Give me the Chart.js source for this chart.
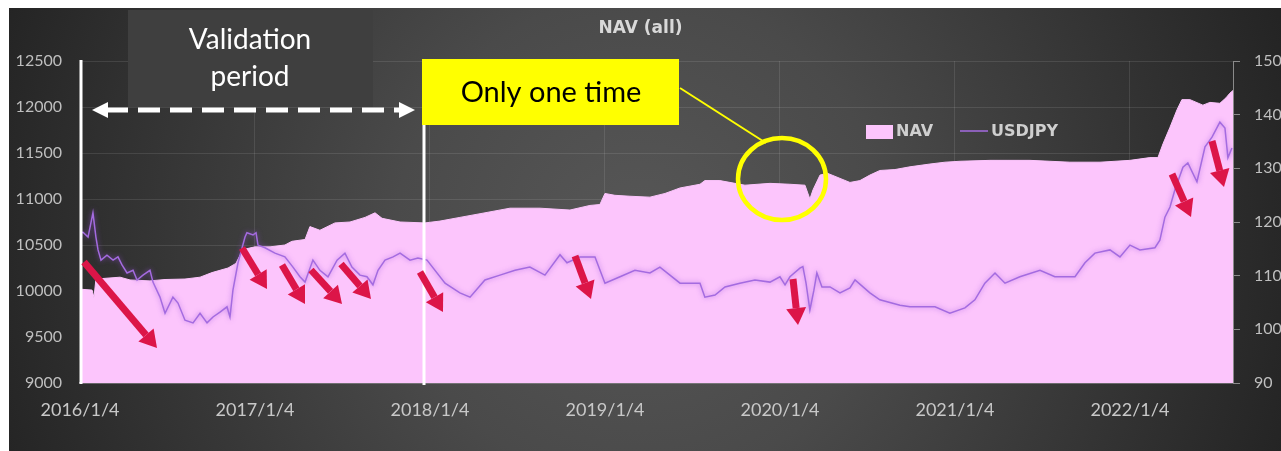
<!DOCTYPE html>
<html>
<head>
<meta charset="utf-8">
<script src="https://cdn.jsdelivr.net/npm/chart.js@4.4.1/dist/chart.umd.min.js"></script>
<style>
html,body{margin:0;padding:0;background:#fff;}
canvas{display:block;}
</style>
</head>
<body>
<canvas id="c" width="1281" height="451"></canvas>
<script>
// ---- data (years counted from 2016/1/4) ----
const tickLabels = ['2016/1/4','2017/1/4','2018/1/4','2019/1/4','2020/1/4','2021/1/4','2022/1/4'];

const navYears = [0.000,0.069,0.080,0.091,0.229,0.286,0.400,0.486,0.600,0.686,0.754,0.846,0.891,0.931,1.000,1.086,1.171,1.211,1.286,1.314,1.371,1.457,1.543,1.629,1.686,1.726,1.829,1.971,2.057,2.171,2.286,2.457,2.629,2.800,2.914,2.971,3.000,3.057,3.143,3.257,3.343,3.429,3.543,3.571,3.657,3.743,3.800,3.943,4.057,4.143,4.171,4.189,4.229,4.271,4.400,4.457,4.514,4.571,4.657,4.743,4.857,4.943,5.029,5.200,5.429,5.543,5.657,5.829,6.000,6.114,6.160,6.189,6.229,6.269,6.297,6.343,6.417,6.457,6.514,6.549,6.571,6.589];
const navValues = [10020,10010,9930,10130,10150,10120,10110,10125,10130,10150,10200,10250,10300,10450,10480,10480,10500,10540,10560,10700,10660,10740,10750,10800,10850,10790,10750,10740,10760,10800,10840,10900,10900,10880,10930,10940,11060,11040,11030,11020,11060,11120,11160,11200,11200,11170,11150,11170,11160,11150,11000,11100,11260,11280,11180,11200,11260,11310,11320,11350,11380,11400,11410,11420,11420,11410,11400,11400,11420,11450,11450,11600,11780,11970,12080,12080,12020,12050,12040,12100,12150,12180];

const fxYears = [0.000,0.017,0.046,0.074,0.091,0.103,0.120,0.154,0.189,0.217,0.240,0.269,0.303,0.326,0.360,0.400,0.417,0.457,0.486,0.531,0.560,0.600,0.646,0.686,0.726,0.760,0.800,0.840,0.857,0.874,0.903,0.943,0.954,0.989,1.006,1.017,1.057,1.114,1.171,1.217,1.257,1.286,1.331,1.371,1.417,1.469,1.514,1.554,1.600,1.640,1.674,1.703,1.743,1.789,1.829,1.886,1.931,1.983,2.086,2.171,2.229,2.314,2.400,2.486,2.571,2.657,2.743,2.783,2.857,2.943,3.000,3.086,3.171,3.257,3.314,3.429,3.543,3.571,3.629,3.686,3.771,3.857,3.943,4.000,4.029,4.057,4.114,4.131,4.149,4.171,4.194,4.211,4.240,4.286,4.343,4.400,4.429,4.514,4.571,4.686,4.743,4.886,4.971,5.057,5.114,5.171,5.229,5.286,5.371,5.486,5.571,5.686,5.743,5.800,5.886,5.943,6.000,6.057,6.143,6.171,6.200,6.229,6.257,6.303,6.331,6.383,6.429,6.469,6.514,6.543,6.560,6.583];
const usdjpyValues = [118.0,118.1,117.2,121.7,117.2,114.8,112.9,113.8,112.9,113.5,112.0,110.5,111.0,109.2,110.1,111.0,108.8,106.0,103.0,106.0,104.9,101.7,101.2,103.0,101.2,102.3,103.2,104.2,102.3,107.3,112.4,117.2,118.0,117.6,118.0,115.7,115.2,114.2,113.5,111.6,109.8,108.8,112.9,111.0,109.8,112.9,114.2,111.6,110.1,109.8,108.3,111.0,112.9,113.5,114.2,112.9,113.3,112.9,108.6,106.8,106.0,109.2,110.1,111.0,111.6,110.1,113.9,112.4,113.5,113.5,108.6,109.8,111.0,110.5,111.6,108.6,108.6,106.0,106.4,107.9,108.6,109.2,108.8,109.8,108.3,109.8,111.4,111.7,108.6,103.6,107.3,110.5,107.9,107.9,106.8,107.7,109.2,106.8,105.5,104.5,104.2,104.2,103.0,104.0,105.5,108.6,110.5,108.6,109.8,111.0,109.8,109.8,112.4,114.2,114.8,113.5,115.7,114.8,115.2,116.6,120.9,122.8,126.0,130.2,131.0,127.5,134.0,135.8,138.6,137.5,132.0,133.8];

const navPoints = navYears.map((t, i) => ({x: t, y: navValues[i]}));
const fxPoints = fxYears.map((t, i) => ({x: t, y: usdjpyValues[i]}));

// ---- decoration plugins ----
const bgPlugin = {
  id: 'bg',
  beforeDraw(chart) {
    const c = chart.ctx;
    c.save();
    c.fillStyle = '#ffffff';
    c.fillRect(0, 0, chart.width, chart.height);
    const g = c.createRadialGradient(640, 240, 0, 640, 240, 700);
    g.addColorStop(0, '#575757');
    g.addColorStop(0.35, '#4a4a4a');
    g.addColorStop(1, '#222222');
    c.fillStyle = g;
    c.fillRect(9, 8, chart.width - 9, chart.height - 8);
    c.restore();
  }
};

const glowPlugin = {
  id: 'glow',
  beforeDatasetDraw(chart, args) {
    if (args.index === 0) {
      const c = chart.ctx;
      c.save();
      c.shadowColor = 'rgba(150,80,220,0.7)';
      c.shadowBlur = 5;
    }
  },
  afterDatasetDraw(chart, args) {
    if (args.index === 0) chart.ctx.restore();
  }
};

function redArrow(c, x1, y1, x2, y2) {
  const ang = Math.atan2(y2 - y1, x2 - x1);
  const hl = 17, hw = 10;
  const bx = x2 - hl * Math.cos(ang), by = y2 - hl * Math.sin(ang);
  c.strokeStyle = '#dc1548';
  c.fillStyle = '#dc1548';
  c.lineWidth = 7;
  c.lineCap = 'butt';
  c.beginPath(); c.moveTo(x1, y1); c.lineTo(bx, by); c.stroke();
  c.beginPath();
  c.moveTo(x2, y2);
  c.lineTo(bx + hw * Math.sin(ang), by - hw * Math.cos(ang));
  c.lineTo(bx - hw * Math.sin(ang), by + hw * Math.cos(ang));
  c.closePath(); c.fill();
}

const notesPlugin = {
  id: 'notes',
  afterDraw(chart) {
    const c = chart.ctx;
    const a = chart.chartArea;
    c.save();
    // white boundary lines of validation period
    c.strokeStyle = '#ffffff';
    c.lineWidth = 3;
    c.beginPath(); c.moveTo(81, 60); c.lineTo(81, a.bottom + 1); c.stroke();
    c.beginPath(); c.moveTo(424, 60); c.lineTo(424, a.bottom + 2); c.stroke();

    // validation box
    c.fillStyle = '#3f3f3f';
    c.fillRect(128, 10, 245, 97);
    c.fillStyle = '#ffffff';
    c.font = '28px Lato';
    c.textAlign = 'center';
    c.textBaseline = 'middle';
    c.fillText('Validation', 250, 40);
    c.fillText('period', 250, 77);

    // dashed double arrow
    c.strokeStyle = '#ffffff';
    c.lineWidth = 5;
    c.setLineDash([22, 10]);
    c.beginPath(); c.moveTo(106, 110); c.lineTo(401, 110); c.stroke();
    c.setLineDash([]);
    c.fillStyle = '#ffffff';
    c.beginPath(); c.moveTo(92, 110); c.lineTo(108, 102); c.lineTo(108, 118); c.closePath(); c.fill();
    c.beginPath(); c.moveTo(415, 110); c.lineTo(399, 102); c.lineTo(399, 118); c.closePath(); c.fill();

    // yellow callout
    c.fillStyle = '#ffff00';
    c.fillRect(422, 59, 257, 66);
    c.fillStyle = '#000000';
    c.font = '29px Lato';
    c.fillText('Only one time', 551, 93);
    c.strokeStyle = '#ffff00';
    c.lineWidth = 2;
    c.beginPath(); c.moveTo(680, 88); c.lineTo(766, 143); c.stroke();
    c.lineWidth = 4.5;
    c.beginPath(); c.ellipse(782, 179, 44, 41, 0, 0, Math.PI * 2); c.stroke();

    // red arrows
    redArrow(c, 84, 262, 157, 348);
    redArrow(c, 242, 248, 267, 289);
    redArrow(c, 282, 265, 305, 304);
    redArrow(c, 311, 270, 342, 304);
    redArrow(c, 341, 264, 371, 299);
    redArrow(c, 420, 272, 443, 312);
    redArrow(c, 575, 256, 591, 299);
    redArrow(c, 793, 279, 798, 325);
    redArrow(c, 1172, 174, 1191, 217);
    redArrow(c, 1212, 141, 1224, 187);

    // legend
    c.fillStyle = '#fcc5fc';
    c.fillRect(866, 125, 27, 14);
    c.fillStyle = '#cfcfcf';
    c.font = 'bold 16px "DejaVu Sans"';
    c.textAlign = 'left';
    c.textBaseline = 'middle';
    c.fillText('NAV', 896, 132);
    c.strokeStyle = '#a46be0';
    c.lineWidth = 1.5;
    c.beginPath(); c.moveTo(960, 131); c.lineTo(988, 131); c.stroke();
    c.fillText('USDJPY', 991, 132);
    c.restore();
  }
};

new Chart(document.getElementById('c'), {
  type: 'line',
  data: {
    datasets: [
      {
        label: 'USDJPY', data: fxPoints, yAxisID: 'y1',
        borderColor: '#a46be0', borderWidth: 1.5, pointRadius: 0, fill: false, order: 1
      },
      {
        label: 'NAV', data: navPoints, yAxisID: 'y',
        borderColor: '#fcc5fc', backgroundColor: '#fcc5fc', borderWidth: 1,
        pointRadius: 0, fill: 'start', order: 2
      }
    ]
  },
  options: {
    responsive: false,
    animation: false,
    layout: { padding: 0 },
    plugins: {
      legend: { display: false },
      tooltip: { enabled: false },
      title: {
        display: true, text: 'NAV (all)', color: '#d9d9d9',
        font: { family: 'DejaVu Sans', weight: 'bold', size: 17 },
        padding: { top: 18, bottom: 22.6 }
      }
    },
    scales: {
      x: {
        type: 'linear', min: 0, max: navYears[navYears.length - 1],
        afterBuildTicks: s => { s.ticks = tickLabels.map((_, i) => ({ value: i })); },
        afterFit: s => { s.height = 68; },
        ticks: {
          callback: v => tickLabels[Math.round(v)],
          color: '#c8c8c8', font: { family: 'Lato', size: 18 },
          padding: 16, maxRotation: 0, autoSkip: false
        },
        grid: { color: 'rgba(255,255,255,0.10)', drawTicks: false },
        border: { color: '#8e8a90', width: 1.5 }
      },
      y: {
        position: 'left', min: 9000, max: 12500,
        afterFit: s => { s.width = 80; },
        ticks: { stepSize: 500, callback: v => String(v), color: '#bfbfbf', font: { family: 'Lato', size: 16 }, padding: 18 },
        grid: { color: 'rgba(255,255,255,0.10)', drawTicks: false },
        border: { display: false }
      },
      y1: {
        position: 'right', min: 90, max: 150,
        afterFit: s => { s.width = 48; },
        ticks: { stepSize: 10, callback: v => String(v), color: '#bfbfbf', font: { family: 'Lato', size: 16 }, padding: 14 },
        grid: { drawOnChartArea: false, color: '#8a8a8a', tickLength: 7 },
        border: { color: '#8a8a8a' }
      }
    }
  },
  plugins: [bgPlugin, glowPlugin, notesPlugin]
});
</script>
</body>
</html>
